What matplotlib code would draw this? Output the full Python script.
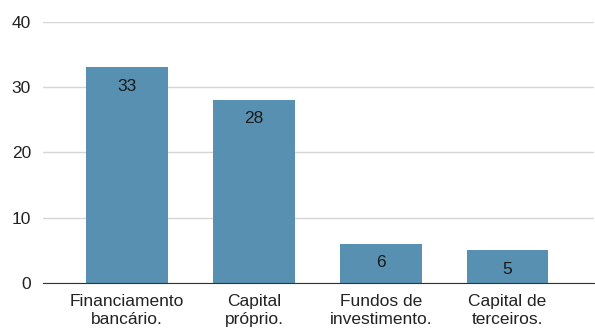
import matplotlib.pyplot as plt

categories = ["Financiamento\nbancário.", "Capital\npróprio.", "Fundos de\ninvestimento.", "Capital de\nterceiros."]
values = [33, 28, 6, 5]
yticks = [0, 10, 20, 30, 40]

plt.rcParams['font.family'] = ['Liberation Sans', 'DejaVu Sans']

fig = plt.figure(figsize=(5.95, 3.31), dpi=100)
ax = fig.add_axes([0.073, 0.145, 0.925, 0.79])

x = range(len(categories))
ax.bar(x, values, width=0.645, color="#5790b0", zorder=3)

# value labels sit just inside the top of each bar
for xi, v in zip(x, values):
    ax.annotate(str(v), (xi, v), xytext=(0, -19), textcoords="offset pixels",
                ha="center", va="center", fontsize=12.5, color="#1a1a1a", zorder=4)

ax.set_xlim(-0.66, 3.68)
ax.set_ylim(0, 40)
ax.set_yticks(yticks)
ax.set_xticks(list(x))
ax.set_xticklabels(categories, fontsize=12.5, color="#222222", linespacing=1.2)
ax.tick_params(axis="y", labelsize=12.5, colors="#222222", length=0, pad=9)
ax.tick_params(axis="x", length=0, pad=8)

ax.grid(axis="y", color="#d6d6d6", linewidth=1, zorder=0)
for side in ["top", "right", "left"]:
    ax.spines[side].set_visible(False)
ax.spines["bottom"].set_color("#333333")
ax.spines["bottom"].set_zorder(5)

fig.savefig("out.png", dpi=100)
